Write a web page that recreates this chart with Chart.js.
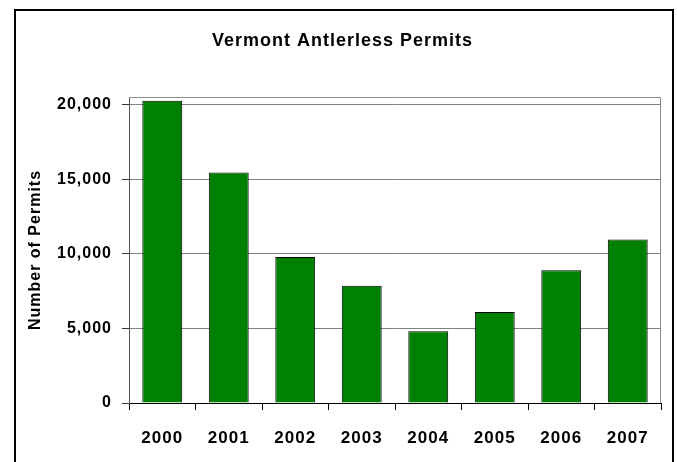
<!DOCTYPE html>
<html>
<head>
<meta charset="utf-8">
<script src="https://cdn.jsdelivr.net/npm/chart.js@4.4.1/dist/chart.umd.min.js"></script>
<style>
  html, body { margin: 0; padding: 0; background: #fff; overflow: hidden; }
  #wrap { position: relative; width: 677px; height: 462px; }
  #frame {
    position: absolute; left: 14px; top: 9px; width: 656px; height: 520px;
    border: 2px solid #000; border-bottom: none; pointer-events: none;
  }
</style>
</head>
<body>
<div id="wrap">
  <canvas id="permitChart" width="677" height="462"></canvas>
  <div id="frame"></div>
</div>
<script>
// === Data ===
const years = ['2000', '2001', '2002', '2003', '2004', '2005', '2006', '2007'];
const permits = [20250, 15450, 9780, 7850, 4800, 6100, 8900, 10950];
const yTickValues = [0, 5000, 10000, 15000, 20000];

const fontFamily = '"Liberation Sans", Arial, sans-serif';

// spacing between letters, as in the original image
const letterSpacingPlugin = {
  id: 'letterSpacing',
  beforeLayout(chart) { chart.ctx.letterSpacing = '1px'; },
  beforeDraw(chart) { chart.ctx.letterSpacing = '1px'; }
};

// thin grey border on top and right of the plot area
const plotBorderPlugin = {
  id: 'plotBorder',
  beforeDatasetsDraw(chart) {
    const { ctx, chartArea: a } = chart;
    ctx.save();
    ctx.strokeStyle = '#8c8c8c';
    ctx.lineWidth = 1;
    ctx.beginPath();
    ctx.moveTo(a.left, a.top + 0.5);
    ctx.lineTo(a.right - 0.5, a.top + 0.5);
    ctx.lineTo(a.right - 0.5, a.bottom);
    ctx.stroke();
    ctx.restore();
  }
};

const ctx = document.getElementById('permitChart').getContext('2d');
new Chart(ctx, {
  type: 'bar',
  data: {
    labels: years,
    datasets: [{
      label: 'Permits',
      data: permits,
      backgroundColor: '#008000',
      borderColor: '#000000',
      borderWidth: 1,
      barPercentage: 0.6,
      categoryPercentage: 1.0
    }]
  },
  options: {
    responsive: false,
    animation: false,
    devicePixelRatio: 1,
    layout: { padding: { left: 8, right: 0, top: 0, bottom: 0 } },
    plugins: {
      legend: { display: false },
      tooltip: { enabled: false },
      title: {
        display: true,
        text: 'Vermont Antlerless Permits',
        color: '#000',
        font: { family: fontFamily, size: 18, weight: 'bold', lineHeight: 1.2 },
        padding: { top: 30, bottom: 45.4 }
      }
    },
    scales: {
      x: {
        grid: {
          display: true,
          drawOnChartArea: false,
          drawTicks: true,
          tickLength: 7,
          tickColor: '#000',
          offset: true
        },
        border: { display: true, color: '#000', width: 1 },
        ticks: {
          color: '#000',
          padding: 18,
          maxRotation: 0,
          font: { family: fontFamily, size: 17, weight: 'bold' }
        },
        afterFit(scale) { scale.height = 59; }
      },
      y: {
        min: 0,
        max: 20500,
        afterBuildTicks(scale) {
          scale.ticks = yTickValues.map(v => ({ value: v }));
        },
        grid: {
          color: '#808080',
          lineWidth: 1,
          drawTicks: true,
          tickLength: 7,
          tickColor: '#333'
        },
        border: { display: true, color: '#555', width: 1 },
        ticks: {
          color: '#000',
          padding: 10,
          font: { family: fontFamily, size: 16, weight: 'bold' },
          callback: function (value) {
            return value.toLocaleString('en-US');
          }
        },
        title: {
          display: true,
          text: 'Number of Permits',
          color: '#000',
          font: { family: fontFamily, size: 16, weight: 'bold', lineHeight: 1.2 },
          padding: { top: 18.4, bottom: 0 }
        },
        afterFit(scale) { scale.width = 121; }
      },
      y2: {
        position: 'right',
        display: true,
        grid: { display: false, drawTicks: false },
        border: { display: false },
        ticks: { display: false },
        afterFit(scale) { scale.width = 16; }
      }
    }
  },
  plugins: [letterSpacingPlugin, plotBorderPlugin]
});
</script>
</body>
</html>
